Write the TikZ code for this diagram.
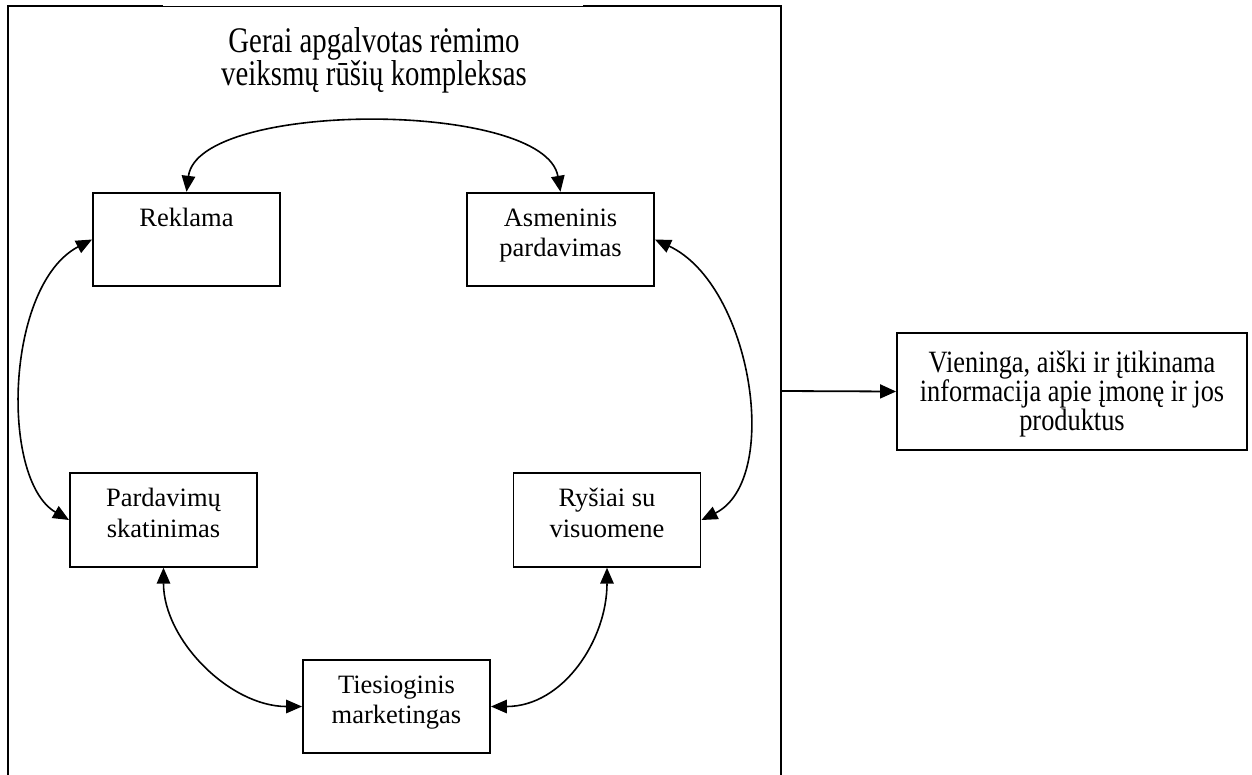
\documentclass[tikz,border=0pt]{standalone}
\usepackage{fontspec}
\setmainfont{Liberation Serif}
\newfontfamily\titlefont[FakeStretch=0.8]{Liberation Serif}
\newfontfamily\infofont[FakeStretch=0.85]{Liberation Serif}
\usetikzlibrary{arrows.meta}
\tikzset{
  boxnode/.style={draw, line width=1.9pt, inner sep=0pt, fill=white},
  biarrow/.style={line width=1.6pt, {Triangle[length=16pt,width=13.5pt]}-{Triangle[length=16pt,width=13.5pt]}},
  oneway/.style={line width=1.8pt, -{Triangle[length=16pt,width=14pt]}},
  framestyle/.style={line width=1.9pt},
}
\newcommand{\boxtext}[1]{\parbox[c][93.5pt][t]{187pt}{\fontsize{26.5pt}{30.5pt}\selectfont\centering\rule{0pt}{33.7pt}#1}}
\begin{document}
\begin{tikzpicture}[x=1pt,y=-1pt]
\useasboundingbox (0,0) rectangle (1252,774);
\fill[white] (0,0) rectangle (1252,774);
% outer frame
\draw[framestyle] (163,6) -- (8,6) -- (8,790);
\draw[framestyle] (583,6) -- (781,6) -- (781,790);
\draw[line width=0.9pt] (163,6) -- (583,6);
\coordinate (frameright) at (781,391);
% title
\node[anchor=base, inner sep=0pt] (title) at (374,52)
  {\parbox[t]{440pt}{\centering\titlefont\fontsize{36pt}{31pt}\selectfont Gerai apgalvotas rėmimo\\ veiksmų rūšių kompleksas}};
% boxes
\node[boxnode] (reklama) at (186.5,239.5) {\boxtext{Reklama}};
\node[boxnode] (asm) at (560.5,239.5) {\boxtext{Asmeninis\\ pardavimas}};
\node[boxnode] (pard) at (163.5,520) {\boxtext{Pardavimų\\ skatinimas}};
\node[boxnode] (rys) at (607,520) {\boxtext{Ryšiai su\\ visuomene}};
\node[boxnode] (ties) at (396.5,706.5) {\boxtext{Tiesioginis\\ marketingas}};
\node[boxnode] (info) at (1072,391.5)
  {\parbox[c][117pt][t]{350pt}{\infofont\fontsize{31pt}{27.5pt}\selectfont\centering\rule{0pt}{39pt}Vieninga, aiški ir įtikinama\\ informacija apie įmonę ir jos\\ produktus}};
% connectors
\draw[biarrow] (reklama.north) .. controls (198,100) and (545,100) .. (asm.north);
\draw[biarrow] (reklama.west) .. controls (5,285) and (0,480) .. (pard.west);
\draw[biarrow] (asm.east) .. controls (752,285) and (782,480) .. (rys.east);
\draw[biarrow] (pard.south) .. controls (163.5,640) and (230,706.5) .. (ties.west);
\draw[biarrow] (rys.south) .. controls (607,640) and (563,706.5) .. (ties.east);
\draw[oneway] (frameright) -- (info.west);
\end{tikzpicture}
\end{document}
